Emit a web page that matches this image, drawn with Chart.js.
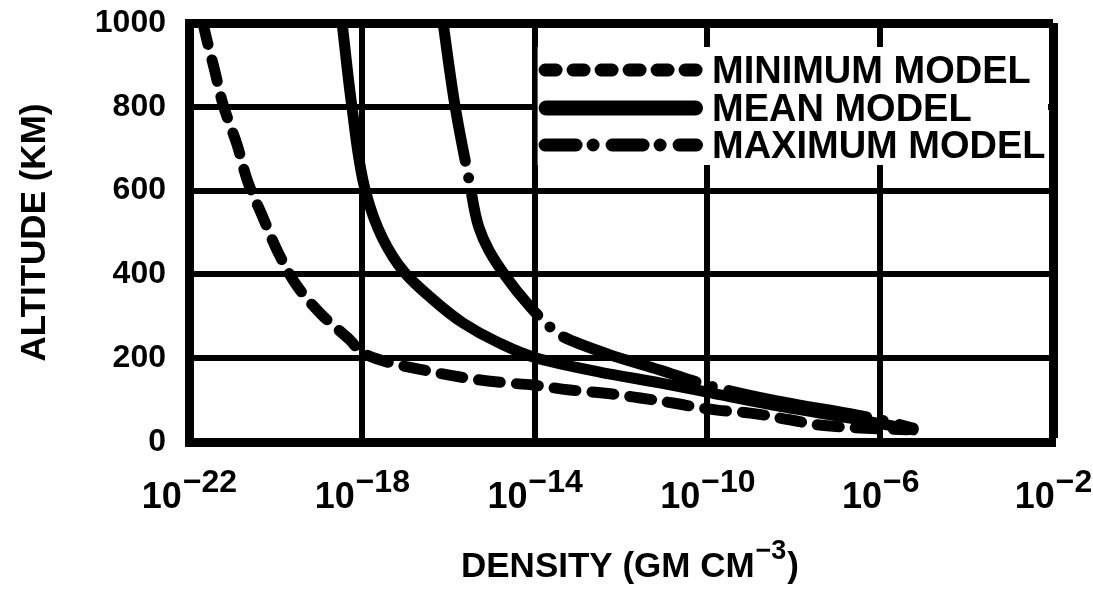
<!DOCTYPE html>
<html>
<head>
<meta charset="utf-8">
<script src="https://cdn.jsdelivr.net/npm/chart.js@4.4.0/dist/chart.umd.min.js"></script>
<style>
html,body{margin:0;padding:0;background:#fff;overflow:hidden}
#wrap{width:1093px;height:597px}
</style>
</head>
<body>
<div id="wrap"><canvas id="c" width="1093" height="597"></canvas></div>
<script>
// ---- data ----
const seriesNames = ['MINIMUM MODEL', 'MEAN MODEL', 'MAXIMUM MODEL'];

const minAltitude = [1000, 959, 893, 804, 709, 621, 537, 453, 370, 303, 243, 210, 189, 172, 155, 143, 136, 124, 117, 105, 93, 76, 69, 53, 36, 29];
const minDensity  = [2.1e-22, 2.6e-22, 3.8e-22, 6.2e-22, 1.3e-21, 2.3e-21, 5.1e-21, 1.15e-20, 3.3e-20, 1.2e-19, 5.4e-19, 1.17e-18, 4.5e-18, 2.6e-17, 1.9e-16, 1.4e-15, 9.1e-15, 6.6e-14, 3.8e-13, 2.8e-12, 1.6e-11, 1.7e-10, 9.8e-10, 8.1e-9, 1.2e-7, 4.2e-6];

const meanAltitude = [1000, 800, 601, 487, 406, 346, 284, 239, 200, 167, 141, 119, 88, 57, 29];
const meanDensity  = [3.5e-19, 5.9e-19, 1.2e-18, 3.0e-18, 9.5e-18, 3.8e-17, 2.2e-16, 1.35e-15, 1.15e-14, 3.2e-13, 7.9e-12, 9.8e-11, 3.3e-9, 2.0e-7, 5.8e-6];

const maxAltitude = [1000, 800, 621, 513, 458, 394, 332, 274, 251, 208, 172, 136, 100, 57, 33];
const maxDensity  = [7.6e-17, 1.45e-16, 3.1e-16, 5.1e-16, 8.7e-16, 2.2e-15, 6.6e-15, 2.3e-14, 4.6e-14, 5.6e-13, 7.9e-12, 9.8e-11, 3.3e-9, 6.8e-7, 5.8e-6];

const xTickExponents = [-22, -18, -14, -10, -6, -2];
const yTickValues = [0, 200, 400, 600, 800, 1000];
const xTitleText = 'DENSITY (GM CM';
const xTitleExponent = '\u22123';
const yTitleText = 'ALTITUDE (KM)';

// ---- helpers ----
const FONT = "'Liberation Sans', Arial, sans-serif";
const NARROW = "'Liberation Sans Narrow', 'Liberation Sans', Arial, sans-serif";
const pts = (xs, ys) => xs.map((v, i) => ({x: v, y: ys[i]}));

const datasets = [
  {label: seriesNames[0], data: pts(minDensity, minAltitude), borderDash: [22, 16], legendDash: [11, 17], legendWidth: 13},
  {label: seriesNames[1], data: pts(meanDensity, meanAltitude), borderDash: [], legendDash: [], legendWidth: 15},
  {label: seriesNames[2], data: pts(maxDensity, maxAltitude), borderDash: [140, 17, 0, 17], legendDash: [31, 17, 0, 19], legendWidth: 13}
].map(d => Object.assign({
  borderColor: '#000', backgroundColor: '#000', borderWidth: 11,
  pointRadius: 0, fill: false, cubicInterpolationMode: 'monotone',
  borderCapStyle: 'round', borderJoinStyle: 'round'
}, d));

// legend box inside the plot (white panel with line samples)
const boxLegend = {
  id: 'boxLegend',
  afterDatasetsDraw(chart) {
    const {ctx, chartArea: a} = chart;
    const left = chart.scales.x.getPixelForValue(1e-14) + 3;
    const top = a.top + 24, bottom = a.top + 142, right = a.right - 5;
    ctx.save();
    ctx.fillStyle = '#fff';
    ctx.fillRect(left, top, right - left, bottom - top);
    const rows = [a.top + 47, a.top + 85, a.top + 122];
    chart.data.datasets.forEach((ds, i) => {
      const y = rows[i];
      ctx.beginPath();
      ctx.strokeStyle = '#000';
      ctx.lineWidth = ds.legendWidth;
      ctx.lineCap = 'round';
      ctx.setLineDash(ds.legendDash);
      const x0 = left + ds.legendWidth / 2 + 1;
      ctx.moveTo(x0, y);
      ctx.lineTo(703 - ds.legendWidth / 2, y);
      ctx.stroke();
      ctx.setLineDash([]);
      ctx.fillStyle = '#000';
      ctx.font = 'bold 38px ' + FONT;
      ctx.textAlign = 'left';
      ctx.textBaseline = 'alphabetic';
      ctx.fillText(ds.label, 712, y + 13);
    });
    ctx.restore();
  }
};

// x tick labels as 10 with raised exponent, and x axis title with superscript
const xLabels = {
  id: 'xLabels',
  afterDraw(chart) {
    const {ctx, chartArea: a} = chart;
    const xs = chart.scales.x;
    ctx.save();
    ctx.fillStyle = '#000';
    ctx.textAlign = 'left';
    ctx.textBaseline = 'alphabetic';
    xTickExponents.forEach(e => {
      const px = xs.getPixelForValue(Math.pow(10, e));
      const base = '10', ex = '\u2212' + Math.abs(e);
      ctx.font = 'bold 36px ' + NARROW;
      const wb = ctx.measureText(base).width;
      ctx.font = 'bold 32px ' + NARROW;
      const we = ctx.measureText(ex).width;
      const x0 = px - (wb + we) / 2;
      ctx.font = 'bold 36px ' + NARROW;
      ctx.fillText(base, x0, a.bottom + 66);
      ctx.font = 'bold 32px ' + NARROW;
      ctx.fillText(ex, x0 + wb + 1, a.bottom + 50);
    });
    // axis title
    ctx.font = 'bold 35px ' + FONT;
    const w1 = ctx.measureText(xTitleText).width;
    const w3 = ctx.measureText(')').width;
    ctx.font = 'bold 27px ' + FONT;
    const w2 = ctx.measureText(xTitleExponent).width;
    const cx = (a.left + a.right) / 2 + 8;
    let x = cx - (w1 + w2 + w3) / 2;
    ctx.font = 'bold 35px ' + FONT;
    ctx.fillText(xTitleText, x, a.bottom + 135);
    x += w1 + 1;
    ctx.font = 'bold 27px ' + FONT;
    ctx.fillText(xTitleExponent, x, a.bottom + 117);
    x += w2 + 1;
    ctx.font = 'bold 35px ' + FONT;
    ctx.fillText(')', x, a.bottom + 135);
    ctx.restore();
  }
};

new Chart(document.getElementById('c'), {
  type: 'line',
  data: {datasets},
  plugins: [boxLegend, xLabels],
  options: {
    indexAxis: 'y',
    responsive: false,
    animation: false,
    devicePixelRatio: 1,
    layout: {padding: {top: 23, right: 40, left: 0, bottom: 0}},
    plugins: {legend: {display: false}, tooltip: {enabled: false}, title: {display: false}},
    scales: {
      x: {
        type: 'logarithmic',
        position: 'bottom',
        min: Math.pow(10, xTickExponents[0]),
        max: Math.pow(10, xTickExponents[xTickExponents.length - 1]),
        afterBuildTicks: s => { s.ticks = xTickExponents.map(e => ({value: Math.pow(10, e)})); },
        afterFit: s => { s.height = 155; s.paddingLeft = 0; s.paddingRight = 0; },
        ticks: {display: false},
        grid: {
          color: '#000', drawTicks: false,
          lineWidth: c => (c.index === xTickExponents.length - 1 ? 9 : 6)
        },
        border: {display: true, color: '#000', width: 9}
      },
      y: {
        type: 'linear',
        position: 'left',
        min: yTickValues[0],
        max: yTickValues[yTickValues.length - 1],
        afterBuildTicks: s => { s.ticks = yTickValues.map(v => ({value: v})); },
        afterFit: s => { s.width = 189; s.paddingTop = 0; s.paddingBottom = 0; },
        ticks: {color: '#000', padding: 23, font: {family: FONT, size: 32, weight: 'bold'}, callback: v => String(v)},
        grid: {
          color: '#000', drawTicks: false,
          lineWidth: c => (c.tick && c.tick.value === yTickValues[yTickValues.length - 1] ? 9 : 6)
        },
        border: {display: true, color: '#000', width: 9},
        title: {
          display: true, text: yTitleText, color: '#000',
          font: {family: FONT, size: 35, weight: 'bold'},
          padding: {top: 14, bottom: 0}
        }
      }
    }
  }
});
</script>
</body>
</html>
